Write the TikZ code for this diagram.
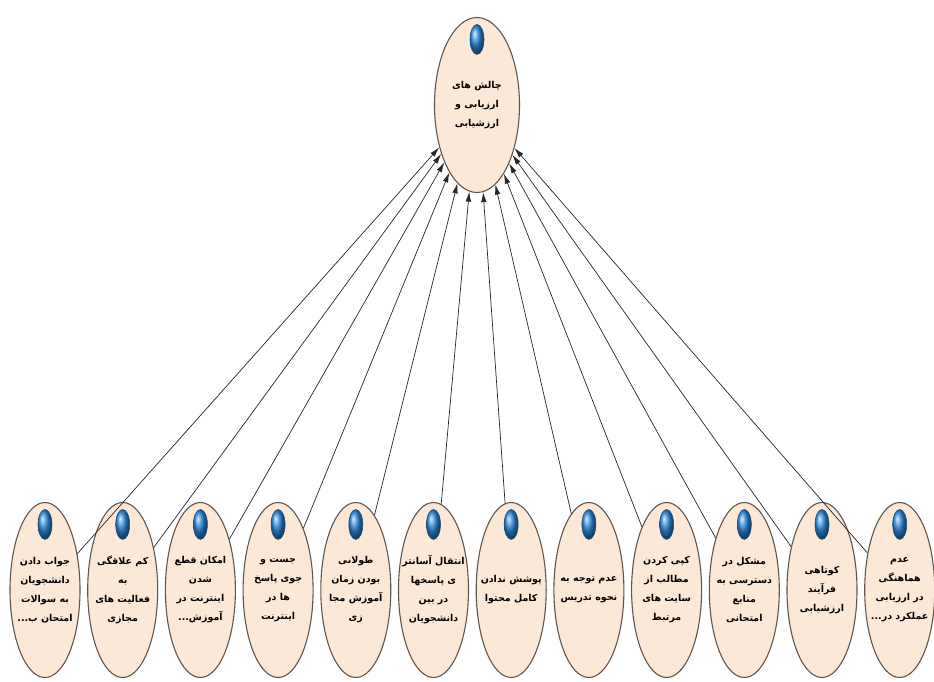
\documentclass[tikz,border=0pt]{standalone}
\usepackage{fontspec}
\usepackage{tikz}
\usetikzlibrary{shapes.geometric,arrows.meta}
\newfontfamily\arabicfont[Script=Arabic]{DejaVu Sans}
\TeXXeTstate=1
\newcommand{\rl}[1]{\makebox[40pt]{\beginR #1\endR}}

\definecolor{peach}{RGB}{252,232,215}
\definecolor{rim}{RGB}{95,85,78}
\definecolor{gem}{RGB}{45,140,225}

\begin{document}
\begin{tikzpicture}[x=1pt,y=1pt,
        bubble/.style = {ellipse,
            draw=rim, line width=1.1pt,
            fill=peach,
            minimum width=70pt, minimum height=175pt,
            inner sep=0pt, align=center,
            font=\arabicfont\bfseries\fontsize{9.5}{19}\selectfont},
        topBubble/.style = {bubble,
            minimum width=85pt},
        gemIcon/.style = {ellipse,
            minimum width=14pt, minimum height=30pt,
            inner sep=0pt,
            draw=gem!60!black, line width=0.6pt,
            ball color=gem},
        link/.style = {-{Latex[length=10pt,width=5.5pt]},
            line width=0.7pt, black!85}]

        \useasboundingbox (0,0) rectangle (934,681);

        % Main challenge
        \node[topBubble] (main) at (477,576) {\rl{چالش های}\\\rl{ارزیابی و}\\\rl{ارزشیابی}};
        \node[gemIcon] (g0) at ([yshift=-22.5pt]main.north) {};

        % Causes
        \node[bubble] (q1) at (45,91) {\rl{جواب دادن}\\\rl{دانشجویان}\\\rl{به سوالات}\\\rl{امتحان ب...}};
        \node[bubble] (q2) at (122.7,91) {\rl{کم علاقگی}\\\rl{به}\\\rl{فعالیت های}\\\rl{مجازی}};
        \node[bubble] (q3) at (200.4,91) {\rl{امکان قطع}\\\rl{شدن}\\\rl{اینترنت در}\\\rl{آموزش...}};
        \node[bubble] (q4) at (278.1,91) {\rl{جست و}\\\rl{جوی پاسخ}\\\rl{ها در}\\\rl{اینترنت}};
        \node[bubble] (q5) at (355.8,91) {\rl{طولانی}\\\rl{بودن زمان}\\\rl{آموزش مجا}\\\rl{زی}};
        \node[bubble] (q6) at (433.5,91) {\rl{انتقال آسانتر}\\\rl{ی پاسخها}\\\rl{در بین}\\\rl{دانشجویان}};
        \node[bubble] (q7) at (511.2,91) {\rl{پوشش ندادن}\\\rl{کامل محتوا}};
        \node[bubble] (q8) at (588.9,91) {\rl{عدم توجه به}\\\rl{نحوه تدریس}};
        \node[bubble] (q9) at (666.6,91) {\rl{کپی کردن}\\\rl{مطالب از}\\\rl{سایت های}\\\rl{مرتبط}};
        \node[bubble] (q10) at (744.3,91) {\rl{مشکل در}\\\rl{دسترسی به}\\\rl{منابع}\\\rl{امتحانی}};
        \node[bubble] (q11) at (822,91) {\rl{کوتاهی}\\\rl{فرآیند}\\\rl{ارزشیابی}};
        \node[bubble] (q12) at (899.7,91) {\rl{عدم}\\\rl{هماهنگی}\\\rl{در ارزیابی}\\\rl{عملکرد در...}};

        % Icons
        \foreach \i in {1,...,12}
            \node[gemIcon] (g\i) at ([yshift=-22.5pt]q\i.north) {};

        % Links to the main challenge
        \foreach \i in {1,...,12}
            \draw[link] (q\i) -- (main);
    \end{tikzpicture}
\end{document}
